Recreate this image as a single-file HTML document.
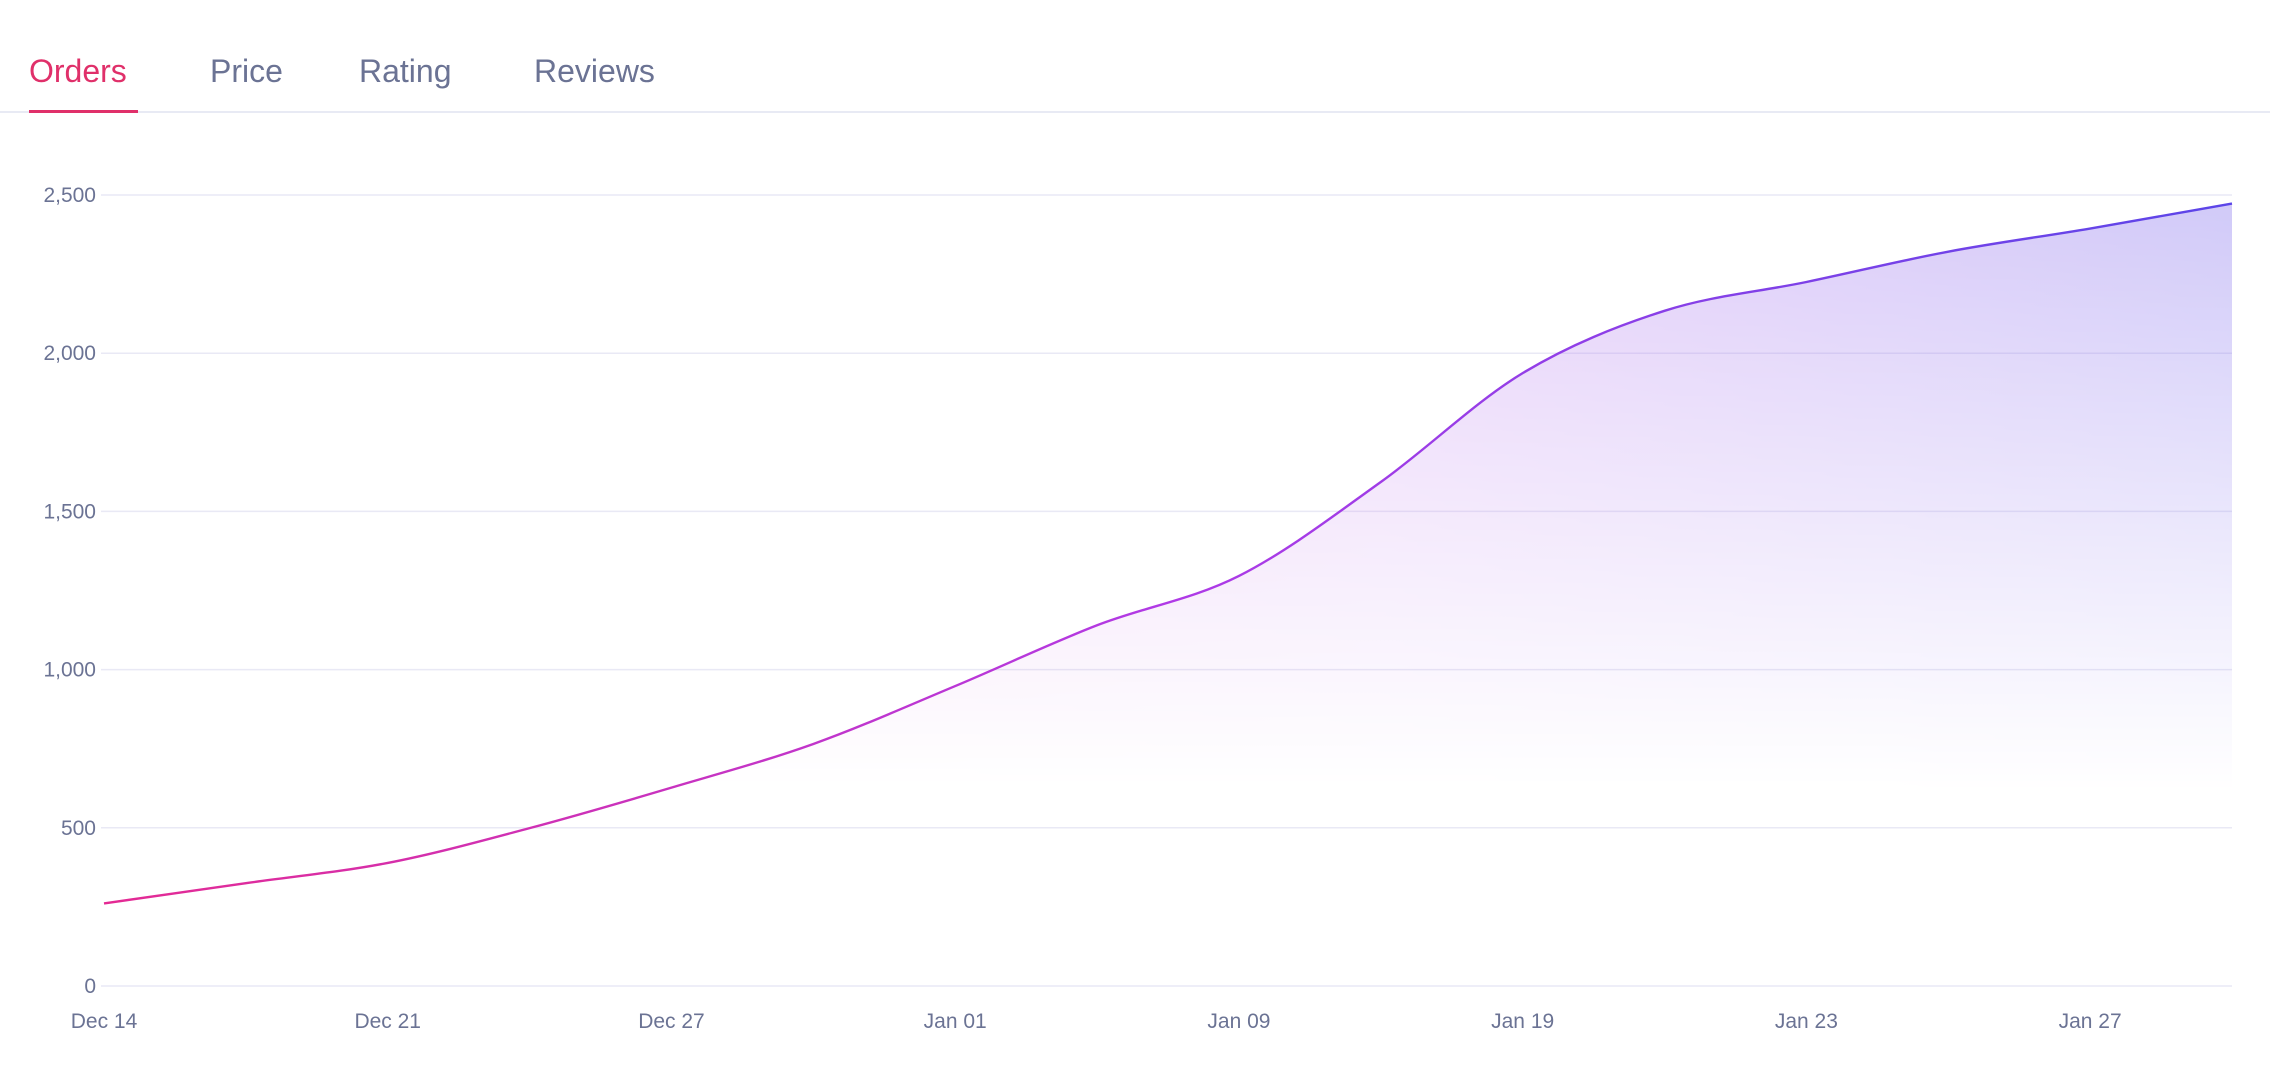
<!DOCTYPE html>
<html><head><meta charset="utf-8"><style>
body{margin:0;background:#fff;width:2270px;height:1070px;overflow:hidden;font-family:"Liberation Sans",sans-serif}
.tab{position:absolute;top:53px;font-size:32px;color:#6b7394}
</style></head><body>
<div style="position:absolute;left:0;top:111px;width:2270px;height:2px;background:#e8eaf4"></div>
<div class="tab" style="left:29px;color:#e0306a">Orders</div>
<div style="position:absolute;left:29px;top:110px;width:109px;height:3px;background:#e0306a"></div>
<div class="tab" style="left:210px">Price</div>
<div class="tab" style="left:359px">Rating</div>
<div class="tab" style="left:534px">Reviews</div>
<svg id="chart" width="2270" height="1070" style="position:absolute;left:0;top:0">
<defs>
<linearGradient id="lg" x1="0" y1="0" x2="1" y2="0"><stop offset="0" stop-color="#e42a93"/><stop offset="0.5" stop-color="#b03ae6"/><stop offset="1" stop-color="#5b45e8"/></linearGradient>
<linearGradient id="fh" x1="0" y1="0" x2="1" y2="0"><stop offset="0" stop-color="#f07ad0"/><stop offset="0.6" stop-color="#c88cf0"/><stop offset="1" stop-color="#8a78ee"/></linearGradient>
<linearGradient id="fv" x1="0" y1="195" x2="0" y2="790" gradientUnits="userSpaceOnUse"><stop offset="0" stop-color="#fff" stop-opacity="0.4"/><stop offset="0.5" stop-color="#fff" stop-opacity="0.2"/><stop offset="1" stop-color="#fff" stop-opacity="0"/></linearGradient>
<mask id="m"><rect x="0" y="0" width="2270" height="1070" fill="url(#fv)"/></mask>
</defs>
<g id="grid"></g><g id="area"></g><g id="line"></g><g id="xl"></g>
</svg>
<script>
const categories=["Dec 14","","Dec 21","","Dec 27","","Jan 01","","Jan 09","","Jan 19","","Jan 23","","Jan 27",""];
const orders=[261,325,389,499,627,765,948,1140,1296,1593,1937,2134,2225,2321,2394,2473];
const yTicks=[0,500,1000,1500,2000,2500];
const yTickLabels=["0","500","1,000","1,500","2,000","2,500"];
const NS="http://www.w3.org/2000/svg";
const x0=104,x1=2232,yb=986,yt=195,ymax=2500;
const X=i=>x0+i*(x1-x0)/(orders.length-1);
const Y=v=>yb-v/ymax*(yb-yt);
function mk(t,a,p){const e=document.createElementNS(NS,t);for(const k in a)e.setAttribute(k,a[k]);p.appendChild(e);return e;}
const g=document.getElementById('grid');
yTicks.forEach((v,i)=>{
 const l=mk('line',{x1:101,x2:2232,y1:Y(v),y2:Y(v),stroke:'#e9e9f5','stroke-width':1.5},g);
 
 
 const t=mk('text',{x:96,y:Y(v)+7,'text-anchor':'end','font-size':21,fill:'#6b7394','font-family':'Liberation Sans, sans-serif'},g);
 t.textContent=yTickLabels[i];
 
 
});
const xl=document.getElementById('xl');
categories.forEach((c,i)=>{if(!c)return;
 const t=mk('text',{x:X(i),y:1028,'text-anchor':'middle','font-size':21,fill:'#6b7394','font-family':'Liberation Sans, sans-serif'},xl);
 t.textContent=c;
 
 
});
const n=orders.length,px=orders.map((v,i)=>X(i)),py=orders.map(Y);
const d=[],m=[];for(let i=0;i<n-1;i++)d.push((py[i+1]-py[i])/(px[i+1]-px[i]));
for(let i=0;i<n;i++){if(i==0)m.push(d[0]);else if(i==n-1)m.push(d[n-2]);else m.push(d[i-1]*d[i]<=0?0:(d[i-1]+d[i])/2);}
let p=`M${px[0]},${py[0]}`;
for(let i=0;i<n-1;i++){const h=(px[i+1]-px[i])/3;p+=` C${px[i]+h},${py[i]+m[i]*h} ${px[i+1]-h},${py[i+1]-m[i+1]*h} ${px[i+1]},${py[i+1]}`;}
const a=mk('path',{d:p+` L${px[n-1]},${yb} L${px[0]},${yb} Z`,fill:'url(#fh)',mask:'url(#m)'},document.getElementById('area'));


const ln=mk('path',{d:p,fill:'none',stroke:'url(#lg)','stroke-width':2.4},document.getElementById('line'));


</script>
</body></html>
